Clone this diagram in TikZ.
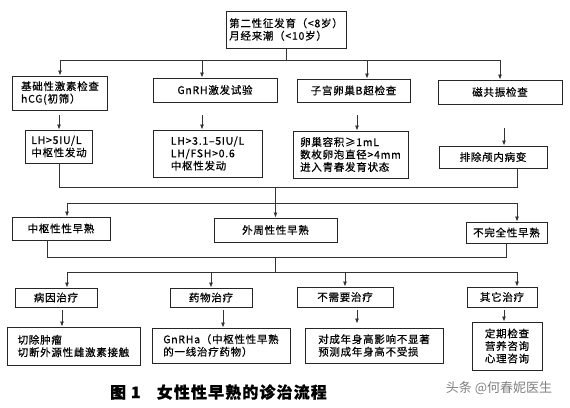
\documentclass[tikz,border=0pt]{standalone}
\usepackage{fontspec}
\newfontfamily\cjk[LetterSpace=7,FakeBold=0.6]{Noto Sans CJK SC}
\newfontfamily\cjkmark{Noto Sans CJK SC}
\usetikzlibrary{arrows.meta,positioning}

\begin{document}
\begin{tikzpicture}[
    x=1pt, y=-1pt,
    every node/.style={font=\cjk\fontsize{10.5}{12.5}\selectfont},
    box/.style={draw=black!85, line width=0.9pt, inner sep=2pt, align=center},
    textbox/.style={box, align=left},
    line/.style={draw=black!80, line width=0.8pt},
    arr/.style={line, -{Latex[length=5pt,width=4pt]}}
]
\useasboundingbox (0,0) rectangle (570,407);

% start
\node[textbox, minimum width=120pt, minimum height=37pt] (start) at (286,29.5) {第二性征发育（<8岁）\\月经来潮（<10岁）};

% examinations
\node[textbox, minimum width=95pt, minimum height=34pt] (exam1) at (60,93) {基础性激素检查\\hCG(初筛）};
\node[box, minimum width=124pt, minimum height=24pt] (exam2) at (215,90) {GnRH激发试验};
\node[box, minimum width=113pt, minimum height=23pt] (exam3) at (353.5,90.5) {子宫卵巢B超检查};
\node[box, minimum width=124pt, minimum height=24pt] (exam4) at (500,92) {磁共振检查};

% results
\node[textbox, minimum width=67pt, minimum height=33pt] (res1) at (59,146.5) {LH>5IU/L\\中枢性发动};
\node[textbox, minimum width=109pt, minimum height=47pt] (res2) at (207.5,153.5) {LH>3.1–5IU/L\\LH/FSH>0.6\\中枢性发动};
\node[textbox, minimum width=115pt, minimum height=47pt] (res3) at (350.5,154.5) {卵巢容积≥1mL\\数枚卵泡直径>4mm\\进入青春发育状态};
\node[box, minimum width=108pt, minimum height=22pt] (res4) at (493,157) {排除颅内病变};

% diagnosis
\node[box, minimum width=98pt, minimum height=23pt] (type1) at (61,228.5) {中枢性性早熟};
\node[box, minimum width=123pt, minimum height=24pt] (type2) at (275.5,230) {外周性性早熟};
\node[box, minimum width=81pt, minimum height=21pt] (type3) at (506.5,232.5) {不完全性早熟};

% treatment
\node[box, minimum width=82pt, minimum height=19pt] (treat1) at (56,297.5) {病因治疗};
\node[box, minimum width=82pt, minimum height=19pt] (treat2) at (211,297.5) {药物治疗};
\node[box, minimum width=96pt, minimum height=20pt] (treat3) at (345,297) {不需要治疗};
\node[box, minimum width=70pt, minimum height=20pt] (treat4) at (502,297) {其它治疗};

% plans
\node[textbox, minimum width=133pt, minimum height=38pt] (plan1) at (73.5,346) {切除肿瘤\\切断外源性雌激素接触};
\node[textbox, minimum width=138pt, minimum height=35pt] (plan2) at (221,345.5) {GnRHa（中枢性性早熟\\的一线治疗药物）};
\node[textbox, minimum width=138pt, minimum height=35pt] (plan3) at (374,345.5) {对成年身高影响不显著\\预测成年身高不受损};
\node[box, minimum width=70pt, minimum height=48pt] (plan4) at (507,346) {定期检查\\营养咨询\\心理咨询};

\node[font=\cjk\bfseries\fontsize{16}{18}\selectfont] (caption) at (218.5,392) {图 1\quad 女性性早熟的诊治流程};
\node[font=\cjkmark\fontsize{13}{15}\selectfont, text=black!50] (mark) at (499,388) {头条 @何春妮医生};

% buses
\coordinate (busA) at (0,60);
\coordinate (busB) at (0,187);
\coordinate (busC) at (0,203);
\coordinate (busD) at (0,257);
\coordinate (busE) at (0,272);

\draw[line] (start.south) -- (start.south |- busA);
\draw[line] (exam1.north |- busA) -- (exam4.north |- busA);
\draw[arr] (exam1.north |- busA) -- (exam1.north);
\draw[arr] ([xshift=-13pt]exam2.north |- busA) -- ([xshift=-13pt]exam2.north);
\draw[arr] ([xshift=13.5pt]exam3.north |- busA) -- ([xshift=13.5pt]exam3.north);
\draw[arr] (exam4.north |- busA) -- (exam4.north);

\draw[arr, shorten <=5pt] (res1.north |- exam1.south) -- (res1.north);
\draw[arr, shorten <=13pt] ([xshift=-5.5pt]res2.north |- exam2.south) -- ([xshift=-5.5pt]res2.north);
\draw[arr, shorten <=13pt] ([xshift=6.5pt]res3.north |- exam3.south) -- ([xshift=6.5pt]res3.north);
\draw[arr, shorten <=24pt] ([xshift=11pt]res4.north |- exam4.south) -- ([xshift=11pt]res4.north);

\draw[line] (res1.south) |- ([xshift=24pt]res4.south |- busB) -- ([xshift=24pt]res4.south);
\draw[arr] (type2.north |- busB) -- (type2.north);
\draw[line] ([xshift=6pt]type1.north |- busC) -- ([xshift=10.5pt]type3.north |- busC);
\draw[arr] ([xshift=6pt]type1.north |- busC) -- ([xshift=6pt]type1.north);
\draw[arr] ([xshift=10.5pt]type3.north |- busC) -- ([xshift=10.5pt]type3.north);

\draw[line] ([xshift=-14pt]type1.south) |- (type3.south |- busD) -- (type3.south);
\draw[line] (type2.south |- busD) -- (type2.south |- busE);
\draw[line] ([xshift=11pt]treat1.north |- busE) -- ([xshift=15pt]treat4.north |- busE);
\draw[arr] ([xshift=11pt]treat1.north |- busE) -- ([xshift=11pt]treat1.north);
\draw[arr] (treat2.north |- busE) -- (treat2.north);
\draw[arr] (treat3.north |- busE) -- (treat3.north);
\draw[arr] ([xshift=15pt]treat4.north |- busE) -- ([xshift=15pt]treat4.north);

\draw[arr, shorten <=3pt] ([xshift=-11.5pt]plan1.north |- treat1.south) -- ([xshift=-11.5pt]plan1.north);
\draw[arr, shorten <=3pt] ([xshift=2pt]plan2.north |- treat2.south) -- ([xshift=2pt]plan2.north);
\draw[arr, shorten <=3pt, shorten >=4pt] ([xshift=-17pt]plan3.north |- treat3.south) -- ([xshift=-17pt]plan3.north);
\draw[arr, shorten <=3pt] ([xshift=-3pt]plan4.north |- treat4.south) -- ([xshift=-3pt]plan4.north);
\end{tikzpicture}
\end{document}
